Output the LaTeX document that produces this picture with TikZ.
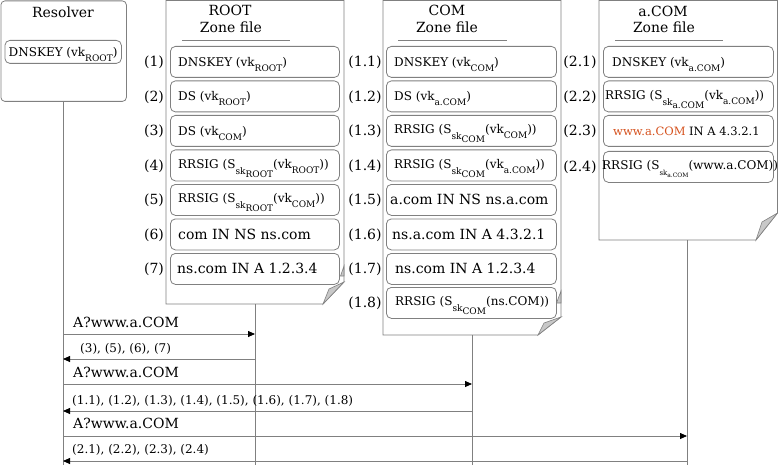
\documentclass[tikz,border=0pt]{standalone}
\usepackage{fontspec}
\setmainfont{DejaVu Serif}
\usetikzlibrary{arrows.meta,calc}
\definecolor{lin}{RGB}{128,128,128}
\definecolor{foldc}{RGB}{200,200,200}
\definecolor{orng}{RGB}{214,82,30}
\newcommand\lo[3]{\raisebox{-#1pt}{\fontsize{#2}{#2}\selectfont #3}}
\newcommand\fs[1]{\fontsize{#1}{#1}\selectfont}
\begin{document}
\begin{tikzpicture}[x=1pt,y=-1pt,
 rec/.style={draw=lin,line width=0.8pt,rounded corners=5pt,minimum height=31pt,inner sep=0pt,anchor=north west,fill=white},
 txt/.style={anchor=base west,inner sep=0pt,font=\fs{12}},
 big/.style={anchor=base west,inner sep=0pt,font=\fs{14}},
 lbl/.style={anchor=base,inner sep=0pt,font=\fs{14}},
 ttl/.style={anchor=base,inner sep=0pt,font=\fs{14}},
 life/.style={draw=lin,line width=0.8pt},
 msg/.style={draw=lin,line width=0.8pt,-{Triangle[length=7pt,width=6pt,color=black,fill=black]}},
 doc/.style={draw=lin,line width=0.8pt,fill=white},
 fold/.style={draw=lin,line width=0.6pt,fill=foldc},
 uline/.style={draw=lin,line width=0.9pt}]
\useasboundingbox (0,0) rectangle (778,465);

% ---------------- Resolver
\node[draw=lin,line width=0.8pt,rounded corners=4pt,minimum width=125.5pt,minimum height=100.5pt,inner sep=0pt,anchor=north west] (res) at (0.5,0.5) {};
\node[ttl] (resT) at (63,18) {Resolver};
\node[rec,minimum width=116.5pt,minimum height=23pt] (resK) at (4.5,40) {};
\node[txt] (resKt) at ($(resK.west)+(4,4.5)$) {DNSKEY (vk\lo{5}{9}{ROOT})};

% ---------------- documents
\path[doc] (166,0.5) -- (344,0.5) -- (344,282) -- (323,304) -- (166,304) -- cycle;
\path[fold] (323,304) -- (344,282) -- (329,289) -- cycle;
\path[fold] (340.5,276) -- (344,266) -- (344,276) -- cycle;
\path[doc] (383,0.5) -- (561,0.5) -- (561,317) -- (538,335) -- (383,335) -- cycle;
\path[fold] (538,335) -- (561,317) -- (544,323) -- cycle;
\path[fold] (556.5,303) -- (561,291) -- (561,303) -- cycle;
\path[doc] (599,0.5) -- (777.5,0.5) -- (777.5,213) -- (756,240) -- (599,240) -- cycle;
\path[fold] (756,240) -- (777.5,213) -- (762,222) -- cycle;

% titles
\node[ttl] (rootT1) at (230,16) {ROOT};
\node[ttl] (rootT2) at (231,33) {Zone file};
\draw[uline] (182,40) -- (290,40);
\node[ttl] (comT1) at (447,16) {COM};
\node[ttl] (comT2) at (447,33) {Zone file};
\draw[uline] (398,40) -- (507,40);
\node[ttl] (acT1) at (663,17) {a.COM};
\node[ttl] (acT2) at (664,33) {Zone file};
\draw[uline] (615,40) -- (723,40);

% ---------------- ROOT rows
\node[rec,minimum width=169pt] (r1) at (170,46) {};
\node[rec,minimum width=169pt] (r2) at (170,80.5) {};
\node[rec,minimum width=169pt] (r3) at (170,115) {};
\node[rec,minimum width=169pt] (r4) at (170,149.5) {};
\node[rec,minimum width=169pt] (r5) at (170,184) {};
\node[rec,minimum width=169pt] (r6) at (170,218.5) {};
\node[rec,minimum width=169pt] (r7) at (170,253) {};
\node[txt] (r1t) at ($(r1.west)+(8,4.5)$) {DNSKEY (vk\lo{5}{9}{ROOT})};
\node[txt] (r2t) at ($(r2.west)+(8,4.5)$) {DS (vk\lo{5}{9}{ROOT})};
\node[txt] (r3t) at ($(r3.west)+(8,4.5)$) {DS (vk\lo{5}{9}{COM})};
\node[txt] (r4t) at ($(r4.west)+(8,3)$) {RRSIG (S\lo{6}{9}{sk\lo{3}{9}{ROOT}}(vk\lo{5}{9}{ROOT}))};
\node[txt] (r5t) at ($(r5.west)+(8,3)$) {RRSIG (S\lo{6}{9}{sk\lo{3}{9}{ROOT}}(vk\lo{5}{9}{COM}))};
\node[big] (r6t) at ($(r6.west)+(8,5)$) {com IN NS ns.com};
\node[big] (r7t) at ($(r7.west)+(7,5)$) {ns.com IN A 1.2.3.4};
\foreach \i in {1,...,7}{\node[lbl] (rl\i) at ($(r\i.west)+(-16,5)$) {(\i)};}

% ---------------- COM rows
\node[rec,minimum width=170pt] (c1) at (386,46) {};
\node[rec,minimum width=170pt] (c2) at (386,80.5) {};
\node[rec,minimum width=170pt] (c3) at (386,115) {};
\node[rec,minimum width=170pt] (c4) at (386,149.5) {};
\node[rec,minimum width=170pt] (c5) at (386,184) {};
\node[rec,minimum width=170pt] (c6) at (386,218.5) {};
\node[rec,minimum width=170pt] (c7) at (386,253) {};
\node[rec,minimum width=170pt] (c8) at (386,287) {};
\node[txt] (c1t) at ($(c1.west)+(8,4.5)$) {DNSKEY (vk\lo{5}{9}{COM})};
\node[txt] (c2t) at ($(c2.west)+(8,4.5)$) {DS (vk\lo{5}{9}{a.COM})};
\node[txt] (c3t) at ($(c3.west)+(8,3)$) {RRSIG (S\lo{6}{9}{sk\lo{3}{9}{COM}}(vk\lo{5}{9}{COM}))};
\node[txt] (c4t) at ($(c4.west)+(8,3)$) {RRSIG (S\lo{6}{9}{sk\lo{3}{9}{COM}}(vk\lo{5}{9}{a.COM}))};
\node[big] (c5t) at ($(c5.west)+(4,5)$) {a.com IN NS ns.a.com};
\node[big] (c6t) at ($(c6.west)+(6,5)$) {ns.a.com IN A 4.3.2.1};
\node[big] (c7t) at ($(c7.west)+(9,5)$) {ns.com IN A 1.2.3.4};
\node[txt] (c8t) at ($(c8.west)+(9,3)$) {RRSIG (S\lo{6}{9}{sk\lo{3}{9}{COM}}(ns.COM))};
\foreach \i in {1,...,8}{\node[lbl] (cl\i) at ($(c\i.west)+(-21,5)$) {(1.\i)};}

% ---------------- a.COM rows
\node[rec,minimum width=170pt] (a1) at (603,46) {};
\node[rec,minimum width=170pt] (a2) at (603,80.5) {};
\node[rec,minimum width=170pt] (a3) at (603,115) {};
\node[rec,minimum width=170pt] (a4) at (603,151) {};
\node[txt] (a1t) at ($(a1.west)+(9,4.5)$) {DNSKEY (vk\lo{5}{9}{a.COM})};
\node[txt] (a2t) at ($(a2.west)+(2,3)$) {RRSIG (S\lo{6}{9}{sk\lo{3}{9}{a.COM}}(vk\lo{5}{9}{a.COM}))};
\node[txt,font=\fs{11.5}] (a3t) at ($(a3.west)+(10,4.5)$) {{\color{orng}www.a.COM} IN A 4.3.2.1};
\node[txt] (a4t) at ($(a4.west)+(-1,3)$) {RRSIG (S\lo{6}{7}{sk\lo{2}{6}{a.COM}}(www.a.COM))};
\foreach \i in {1,...,4}{\node[lbl] (al\i) at ($(a\i.west)+(-23,5)$) {(2.\i)};}

% ---------------- lifelines
\coordinate (resB) at (63,101);   \coordinate (resE) at (63,465);
\coordinate (rootB) at (255,304); \coordinate (rootE) at (255,465);
\coordinate (comB) at (472,335);  \coordinate (comE) at (472,465);
\coordinate (acB) at (687,240);   \coordinate (acE) at (687,465);
\draw[life] (resB) -- (resE);
\draw[life] (rootB) -- (rootE);
\draw[life] (comB) -- (comE);
\draw[life] (acB) -- (acE);

% ---------------- messages
\coordinate (m1) at (0,334);
\coordinate (m2) at (0,359);
\coordinate (m3) at (0,384);
\coordinate (m4) at (0,411);
\coordinate (m5) at (0,436);
\coordinate (m6) at (0,461);
\node[big] (q1) at (73,327) {A?www.a.COM};
\draw[msg] (resE |- m1) -- (rootE |- m1);
\node[txt] (p1) at (80,352) {(3), (5), (6), (7)};
\draw[msg] (rootE |- m2) -- (resE |- m2);
\node[big] (q2) at (73,377) {A?www.a.COM};
\draw[msg] (resE |- m3) -- (comE |- m3);
\node[txt] (p2) at (72,404) {(1.1), (1.2), (1.3), (1.4), (1.5), (1.6), (1.7), (1.8)};
\draw[msg] (comE |- m4) -- (resE |- m4);
\node[big] (q3) at (73,428) {A?www.a.COM};
\draw[msg] (resE |- m5) -- (acE |- m5);
\node[txt] (p3) at (72,453) {(2.1), (2.2), (2.3), (2.4)};
\draw[msg] (acE |- m6) -- (resE |- m6);
\end{tikzpicture}
\end{document}
